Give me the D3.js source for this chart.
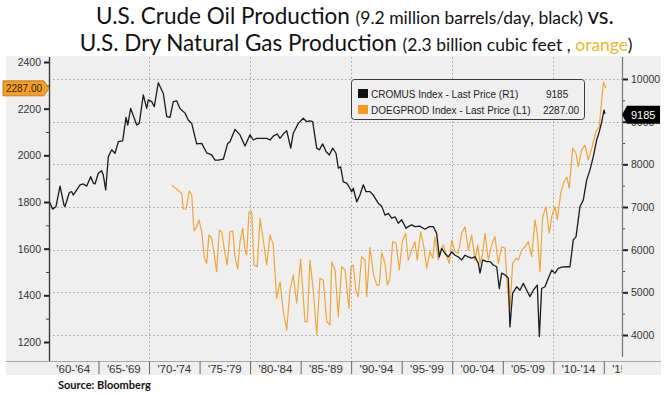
<!DOCTYPE html>
<html><head><meta charset="utf-8">
<script src="https://cdn.jsdelivr.net/npm/d3@7/dist/d3.min.js"></script>
<style>body{margin:0;background:#fff}svg{display:block}</style>
</head><body><svg id="c" width="667" height="395"></svg>
<script>
// Crude oil production, thousand barrels/day (right axis): [year, value]
const oilData = [[1960.13,7120],[1960.47,6950],[1960.79,7010],[1961.19,7490],[1961.58,7050],[1961.68,7010],[1962.11,7340],[1962.35,7360],[1962.50,7280],[1963.17,7520],[1963.49,7540],[1963.83,7490],[1964.23,7710],[1964.48,7560],[1964.65,7540],[1964.98,7790],[1965.31,7850],[1965.47,7750],[1965.71,7400],[1965.97,8180],[1966.30,8340],[1966.63,8260],[1966.96,8530],[1967.39,8550],[1967.72,9100],[1967.89,8920],[1968.18,9310],[1968.78,8920],[1969.03,8960],[1969.43,9630],[1969.77,9310],[1969.92,9510],[1970.26,9470],[1970.52,9350],[1970.91,9910],[1971.41,9660],[1971.75,9120],[1972.07,9100],[1972.40,9470],[1972.73,9490],[1973.06,9310],[1973.56,9200],[1973.88,9040],[1974.22,8960],[1974.71,8480],[1975.21,8490],[1975.70,8270],[1976.20,8220],[1976.52,8100],[1976.85,8100],[1977.35,8120],[1977.78,8490],[1978.01,8530],[1978.51,8820],[1979.00,8690],[1979.49,8430],[1979.99,8690],[1980.31,8570],[1980.65,8610],[1981.64,8610],[1981.97,8570],[1982.29,8660],[1982.69,8710],[1982.96,8610],[1983.28,8710],[1983.62,8790],[1984.02,8380],[1984.27,8730],[1984.77,8960],[1985.26,9080],[1985.60,9000],[1985.92,9020],[1986.19,9000],[1986.59,8380],[1986.85,8340],[1987.18,8480],[1987.51,8300],[1987.84,8220],[1988.17,8380],[1988.50,8260],[1988.73,7910],[1988.96,7940],[1989.22,7590],[1989.56,7560],[1989.88,7440],[1990.05,7360],[1990.21,7440],[1990.55,7120],[1990.87,7280],[1991.20,7520],[1991.47,7360],[1991.86,7360],[1992.19,7280],[1992.68,7090],[1993.02,7020],[1993.35,6810],[1993.67,6850],[1994.01,6740],[1994.34,6770],[1994.66,6620],[1995.00,6700],[1995.42,6500],[1995.65,6540],[1995.99,6580],[1996.31,6540],[1996.81,6550],[1997.30,6480],[1997.73,6540],[1998.13,6540],[1998.46,6380],[1998.72,5830],[1998.96,6030],[1999.28,5910],[1999.61,5830],[1999.95,5950],[2000.27,5870],[2000.60,5830],[2000.94,5760],[2001.26,5870],[2001.59,5830],[2001.93,5800],[2002.25,5830],[2002.58,5680],[2002.75,5450],[2003.01,5760],[2003.41,5720],[2003.74,5720],[2004.06,5640],[2004.40,5600],[2004.66,5090],[2004.89,5450],[2005.22,5410],[2005.55,5330],[2005.71,4190],[2005.98,4980],[2006.38,5130],[2006.70,5050],[2007.03,5210],[2007.37,5050],[2007.69,4900],[2008.02,5050],[2008.42,5170],[2008.62,3960],[2008.85,5090],[2009.18,5130],[2009.51,5330],[2009.84,5520],[2010.17,5450],[2010.49,5560],[2010.83,5590],[2011.33,5600],[2011.65,5600],[2011.98,6230],[2012.25,6300],[2012.64,7010],[2012.97,7160],[2013.30,7630],[2013.63,7870],[2013.96,8180],[2014.29,8570],[2014.55,8760],[2014.79,8990],[2015.02,9270],[2015.12,9185]];
// Dry natural gas production (left axis): [year, value]
const gasData = [[1972.24,1873],[1972.73,1856],[1973.23,1837],[1973.39,1769],[1973.66,1769],[1973.98,1848],[1974.22,1830],[1974.45,1676],[1974.71,1694],[1974.94,1723],[1975.21,1673],[1975.47,1563],[1975.70,1537],[1975.93,1659],[1976.20,1644],[1976.43,1580],[1976.69,1501],[1976.95,1680],[1977.19,1673],[1977.51,1580],[1977.74,1530],[1978.01,1673],[1978.28,1677],[1978.50,1566],[1978.77,1512],[1979.00,1630],[1979.27,1687],[1979.49,1594],[1979.66,1573],[1979.89,1758],[1980.16,1758],[1980.38,1530],[1980.71,1523],[1980.98,1730],[1981.30,1637],[1981.64,1530],[1981.97,1659],[1982.29,1616],[1982.63,1387],[1982.96,1458],[1983.28,1330],[1983.62,1251],[1983.95,1423],[1984.27,1487],[1984.61,1366],[1985.00,1554],[1985.43,1287],[1985.66,1287],[1985.92,1551],[1986.25,1423],[1986.59,1230],[1986.91,1473],[1987.24,1466],[1987.58,1287],[1987.90,1273],[1988.07,1544],[1988.40,1509],[1988.73,1308],[1989.06,1523],[1989.39,1509],[1989.78,1344],[1989.98,1523],[1990.21,1530],[1990.45,1423],[1990.70,1394],[1991.04,1566],[1991.37,1551],[1991.54,1394],[1991.86,1606],[1992.19,1494],[1992.52,1444],[1992.78,1444],[1993.02,1583],[1993.35,1537],[1993.58,1444],[1993.84,1473],[1994.11,1630],[1994.43,1623],[1994.76,1509],[1995.06,1630],[1995.39,1666],[1995.65,1551],[1995.99,1594],[1996.31,1630],[1996.54,1551],[1996.88,1673],[1997.21,1602],[1997.47,1516],[1997.80,1587],[1998.07,1559],[1998.29,1651],[1998.62,1551],[1998.79,1587],[1999.12,1616],[1999.45,1566],[1999.71,1537],[1999.95,1637],[2000.27,1587],[2000.60,1580],[2000.94,1666],[2001.26,1694],[2001.59,1594],[2001.93,1659],[2002.25,1551],[2002.52,1616],[2002.75,1537],[2003.01,1580],[2003.24,1666],[2003.57,1551],[2003.90,1616],[2004.23,1651],[2004.56,1537],[2004.89,1608],[2005.22,1602],[2005.45,1437],[2005.71,1344],[2005.98,1537],[2006.31,1559],[2006.54,1551],[2006.87,1594],[2007.20,1608],[2007.53,1630],[2007.86,1566],[2008.19,1723],[2008.42,1666],[2008.68,1501],[2008.95,1737],[2009.28,1780],[2009.60,1666],[2009.84,1737],[2010.17,1780],[2010.40,1723],[2010.73,1837],[2011.00,1880],[2011.33,1908],[2011.58,1859],[2011.92,2030],[2012.25,2009],[2012.47,1951],[2012.81,2023],[2013.14,2044],[2013.46,1980],[2013.80,2030],[2014.22,2101],[2014.55,2123],[2014.79,2237],[2014.97,2314],[2015.21,2287]];

const leftTicks = [1200,1400,1600,1800,2000,2200,2400];
const leftMinor = [1300,1500,1700,1900,2100,2300];
const rightTicks = [4000,5000,6000,7000,8000,9000,10000];
const rightMinor = [4500,5500,6500,7500,8500,9500];
const periodStarts = [1960,1965,1970,1975,1980,1985,1990,1995,2000,2005,2010,2015];
const periodLabels = ["'60-'64","'65-'69","'70-'74","'75-'79","'80-'84","'85-'89","'90-'94","'95-'99","'00-'04","'05-'09","'10-'14","'15-'19"];
const gridYears = [1970,1980,1990,2000,2010];
const legendNames = ["CROMUS Index - Last Price (R1)","DOEGPROD Index - Last Price (L1)"];
const legendValues = ["9185","2287.00"];
const lastOil = 9185, lastGas = 2287;

const svg = d3.select("#c");
const x = d3.scaleLinear().domain([1960, 2016.8]).range([48, 622]);
const yL = d3.scaleLinear().domain([1200, 2400]).range([342, 62]);
const yR = d3.scaleLinear().domain([4000, 10000]).range([335, 79]);
const pTop = 57, pBottom = 361, pLeft = 49, pRight = 622;
const tickFont = "'Liberation Sans', Arial, sans-serif";
const fmtInt = d3.format("d");

// panel background
svg.append("rect").attr("x",6).attr("y",56).attr("width",655).attr("height",319).attr("fill","#efefef");

// title
const title = svg.append("g").attr("font-family","Lato, 'Open Sans', sans-serif").attr("fill","#111").attr("text-anchor","middle");
const t1 = title.append("text").attr("x",355).attr("y",24);
t1.append("tspan").attr("font-size",22.5).text("U.S. Crude Oil Production ");
t1.append("tspan").attr("font-size",17.5).text("(9.2 million barrels/day, black) ");
t1.append("tspan").attr("font-size",22.5).text("vs.");
const t2 = title.append("text").attr("x",356).attr("y",51);
t2.append("tspan").attr("font-size",22.5).text("U.S. Dry Natural Gas Production ");
t2.append("tspan").attr("font-size",17.5).text("(2.3 billion cubic feet , ");
t2.append("tspan").attr("font-size",17.5).attr("fill","#e8b830").text("orange");
t2.append("tspan").attr("font-size",17.5).text(")");

// gridlines
const grid = svg.append("g").attr("stroke","#a0a0a0").attr("stroke-width",1).attr("stroke-dasharray","1.5,2.5");
grid.selectAll("line.h").data(rightTicks).join("line").attr("class","h")
  .attr("x1",pLeft).attr("x2",pRight).attr("y1",d=>Math.round(yR(d))+0.5).attr("y2",d=>Math.round(yR(d))+0.5);
grid.selectAll("line.v").data(gridYears).join("line").attr("class","v")
  .attr("y1",pTop).attr("y2",pBottom).attr("x1",d=>Math.round(x(d))+0.5).attr("x2",d=>Math.round(x(d))+0.5);

// bottom band line and separators
svg.append("line").attr("x1",6).attr("x2",661).attr("y1",pBottom+0.5).attr("y2",pBottom+0.5).attr("stroke","#a8a8a8");
const xAxis = svg.append("g").attr("transform",`translate(0,${pBottom})`)
  .call(d3.axisBottom(x).tickValues(periodStarts.slice(1)).tickSize(13).tickFormat(""));
xAxis.select(".domain").remove();
xAxis.selectAll(".tick line").attr("stroke","#666");
svg.append("clipPath").attr("id","lc").append("rect").attr("x",pLeft).attr("y",pBottom).attr("width",pRight-pLeft).attr("height",20);
svg.append("g").attr("clip-path","url(#lc)").selectAll("text").data(periodStarts).join("text")
  .attr("x",(d)=>x(d+2.5)).attr("y",373).attr("text-anchor","middle")
  .attr("font-family",tickFont).attr("font-size",11.5).attr("fill","#333")
  .text((d,i)=>periodLabels[i]);

// series
const gasLine = d3.line().x(d=>x(d[0])).y(d=>yL(d[1]));
const oilLine = d3.line().x(d=>x(d[0])).y(d=>yR(d[1]));
svg.append("path").datum(gasData).attr("d",gasLine).attr("fill","none").attr("stroke","#f0a63c").attr("stroke-width",1.2).attr("stroke-linejoin","round");
svg.append("path").datum(oilData).attr("d",oilLine).attr("fill","none").attr("stroke","#1b1b1b").attr("stroke-width",1.3).attr("stroke-linejoin","round");

// left axis
const la = svg.append("g").attr("transform",`translate(${pLeft},0)`)
  .call(d3.axisLeft(yL).tickValues(leftTicks).tickSize(5).tickPadding(3).tickFormat(fmtInt));
la.select(".domain").remove();
la.selectAll(".tick line").attr("stroke","#222").attr("stroke-width",2);
la.selectAll("text").attr("font-family",tickFont).attr("font-size",10.5).attr("fill","#333");
const lam = svg.append("g").attr("transform",`translate(${pLeft},0)`)
  .call(d3.axisLeft(yL).tickValues(leftMinor).tickSize(3).tickFormat(""));
lam.select(".domain").remove();
lam.selectAll(".tick line").attr("stroke","#444");
svg.append("line").attr("x1",pLeft+0.5).attr("x2",pLeft+0.5).attr("y1",pTop).attr("y2",pBottom).attr("stroke","#333").attr("stroke-width",1.3);

// right axis
const ra = svg.append("g").attr("transform",`translate(${pRight},0)`)
  .call(d3.axisRight(yR).tickValues(rightTicks).tickSize(6).tickPadding(3).tickFormat(fmtInt));
ra.select(".domain").remove();
ra.selectAll(".tick line").attr("stroke","#222").attr("stroke-width",2);
ra.selectAll("text").attr("font-family",tickFont).attr("font-size",10.5).attr("fill","#333");
const ram = svg.append("g").attr("transform",`translate(${pRight},0)`)
  .call(d3.axisRight(yR).tickValues(rightMinor).tickSize(3).tickFormat(""));
ram.select(".domain").remove();
ram.selectAll(".tick line").attr("stroke","#444");
svg.append("line").attr("x1",pRight+0.5).attr("x2",pRight+0.5).attr("y1",pTop).attr("y2",pBottom-4).attr("stroke","#777").attr("stroke-width",1.2);

// legend
const lg = svg.append("g");
lg.append("rect").attr("x",351.5).attr("y",79.5).attr("width",233).attr("height",40).attr("rx",3)
  .attr("fill","#efefef").attr("stroke","#3a3a3a").attr("stroke-width",1);
const legColors = ["#111111","#f39a1e"];
legendNames.forEach((n,i)=>{
  const yy = 89 + i*16;
  lg.append("rect").attr("x",358).attr("y",yy).attr("width",10).attr("height",9).attr("fill",legColors[i]);
  lg.append("text").attr("x",371).attr("y",yy+8.5).attr("font-family",tickFont).attr("font-size",10).attr("fill","#222").text(n);
  lg.append("text").attr("x",i===0?546:543).attr("y",yy+8.5).attr("font-family",tickFont).attr("font-size",10).attr("fill","#222").text(legendValues[i]);
});

// last-value badges
const gy = yL(lastGas);
svg.append("path").attr("d",`M3,${gy-7.5}L44,${gy-7.5}L49,${gy}L44,${gy+7.5}L3,${gy+7.5}Z`)
  .attr("fill","#f0a02a").attr("stroke","#b8680c").attr("stroke-width",0.8);
svg.append("text").attr("x",24).attr("y",gy+3.6).attr("text-anchor","middle").attr("font-family",tickFont)
  .attr("font-size",10).attr("fill","#3a2200").text(d3.format(".2f")(lastGas));
const oy = yR(lastOil)+1;
svg.append("path").attr("d",`M622,${oy}L627,${oy-9}L660,${oy-9}L660,${oy+9}L627,${oy+9}Z`).attr("fill","#000");
svg.append("text").attr("x",631).attr("y",oy+4).attr("font-family",tickFont).attr("font-size",11).attr("fill","#fff").text(lastOil);

// source
svg.append("text").attr("x",58).attr("y",389).attr("font-family","Lato, sans-serif").attr("font-weight","bold")
  .attr("font-size",11).attr("fill","#111").text("Source:  Bloomberg");
</script></body></html>
